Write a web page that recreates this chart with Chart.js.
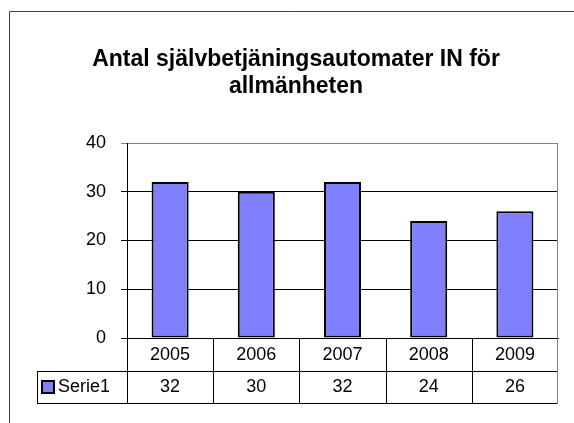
<!DOCTYPE html>
<html>
<head>
<meta charset="utf-8">
<script src="https://cdn.jsdelivr.net/npm/chart.js@4"></script>
<style>
  body { margin: 0; background: #fff; }
</style>
</head>
<body>
<canvas id="myChart" width="574" height="423"></canvas>
<script>
    const years = ['2005', '2006', '2007', '2008', '2009'];
    const serie1 = [32, 30, 32, 24, 26];
    const seriesName = 'Serie1';
    const titleLines = ['Antal självbetjäningsautomater IN för', 'allmänheten'];
    const yMin = 0, yMax = 40, yStep = 10;

    const font = '"Liberation Sans", Arial, sans-serif';
    const barColor = '#8080FF';

    // frame + data table under the plot
    const tablePlugin = {
      id: 'tablePlugin',
      beforeDraw(chart) {
        const c = chart.ctx;
        c.save();
        c.fillStyle = '#fff';
        c.fillRect(0, 0, chart.width, chart.height);
        c.lineWidth = 1;
        c.strokeStyle = '#404040';
        c.beginPath();
        c.moveTo(9.5, chart.height + 5);
        c.lineTo(9.5, 11.5);
        c.lineTo(chart.width + 5, 11.5);
        c.stroke();
        c.restore();
      },
      afterDraw(chart) {
        const c = chart.ctx;
        const area = chart.chartArea;
        const x = chart.scales.x;
        const rowTop = area.bottom;
        const rowMid = rowTop + 33;
        const rowBot = rowMid + 32;
        const tableLeft = 37;
        const step = (area.right - area.left) / years.length;

        c.save();
        c.lineWidth = 1;
        c.strokeStyle = '#000';
        c.beginPath();
        c.moveTo(tableLeft, rowMid + 0.5); c.lineTo(area.right, rowMid + 0.5);
        c.moveTo(tableLeft, rowBot + 0.5); c.lineTo(area.right, rowBot + 0.5);
        c.moveTo(tableLeft + 0.5, rowMid); c.lineTo(tableLeft + 0.5, rowBot);
        for (let i = 0; i < years.length; i++) {
          const px = Math.round(area.left + i * step) + 0.5;
          c.moveTo(px, rowTop); c.lineTo(px, rowBot);
        }
        c.stroke();

        // right side of plot + table in grey
        c.strokeStyle = '#808080';
        c.beginPath();
        c.moveTo(Math.round(area.right) - 0.5, area.top);
        c.lineTo(Math.round(area.right) - 0.5, rowBot + 1);
        c.stroke();

        // legend key
        c.fillStyle = barColor;
        c.fillRect(42, rowMid + 10, 12, 12);
        c.strokeStyle = '#000';
        c.lineWidth = 2;
        c.strokeRect(42, rowMid + 10, 12, 12);

        c.fillStyle = '#000';
        c.font = '18px ' + font;
        c.textBaseline = 'middle';
        c.textAlign = 'left';
        c.fillText(seriesName, 58, rowMid + 16.5);
        c.textAlign = 'center';
        serie1.forEach((v, i) => {
          c.fillText(String(v), x.getPixelForValue(i), rowMid + 16.5);
        });
        c.restore();
      }
    };

    const ctx = document.getElementById('myChart').getContext('2d');
    let myChart = new Chart(ctx, {
      type: 'bar',
      data: {
        labels: years,
        datasets: [{
          label: seriesName,
          data: serie1,
          backgroundColor: barColor,
          borderColor: '#000',
          borderWidth: 2,
          borderSkipped: false,
          barPercentage: 0.43,
          categoryPercentage: 1
        }]
      },
      options: {
        responsive: false,
        animation: false,
        layout: { padding: { top: 0, left: 34, right: 16, bottom: 52 } },
        plugins: {
          legend: { display: false },
          tooltip: { enabled: false },
          title: {
            display: true,
            text: titleLines,
            color: '#000',
            font: { family: font, size: 23, weight: 'bold', lineHeight: 1.17 },
            padding: { top: 46, bottom: 43.2 }
          }
        },
        scales: {
          x: {
            afterFit: (scale) => { scale.height = 33; },
            grid: { display: false, drawTicks: false },
            border: { display: true, color: '#000' },
            ticks: { color: '#000', padding: 6, font: { family: font, size: 18 } }
          },
          y: {
            min: yMin,
            max: yMax,
            afterFit: (scale) => { scale.width = 93; },
            grid: {
              color: (c) => c.tick && c.tick.value === yMax ? '#808080' : '#000',
              tickLength: 6
            },
            border: { display: true, color: '#000' },
            ticks: {
              stepSize: yStep,
              color: '#000',
              padding: 15,
              font: { family: font, size: 18 }
            }
          }
        }
      },
      plugins: [tablePlugin]
    });
</script>
</body>
</html>
